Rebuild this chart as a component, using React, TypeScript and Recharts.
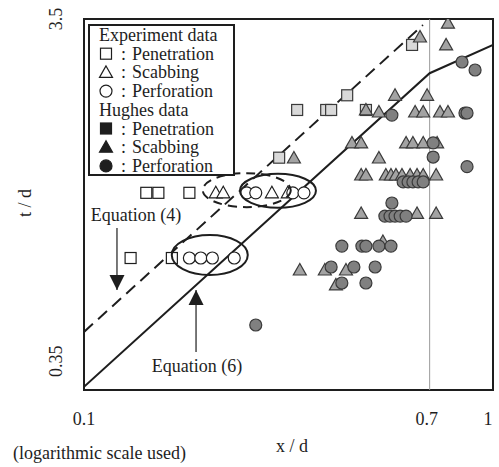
import React from "react";
import {
  ScatterChart,
  Scatter,
  XAxis,
  YAxis,
  ReferenceLine,
  ReferenceArea,
  ReferenceDot,
} from "recharts";

const X_TICKS = [0.1, 0.7, 1];
const Y_TICKS = [0.35, 3.5];

// experiment data (open markers)
const EXP_PENETRATION = [
  { x: 0.142, y: 1.19 },
  { x: 0.152, y: 1.19 },
  { x: 0.181, y: 1.19 },
  { x: 0.13, y: 0.794 },
  { x: 0.164, y: 0.794 },
];
const EXP_SCABBING = [
  { x: 0.21, y: 1.19 },
  { x: 0.219, y: 1.19 },
  { x: 0.288, y: 1.19 },
  { x: 0.315, y: 1.19 },
];
const EXP_PERFORATION = [
  { x: 0.25, y: 1.19 },
  { x: 0.263, y: 1.19 },
  { x: 0.324, y: 1.19 },
  { x: 0.345, y: 1.19 },
  { x: 0.181, y: 0.794 },
  { x: 0.193, y: 0.794 },
  { x: 0.206, y: 0.794 },
  { x: 0.233, y: 0.794 },
];

// Hughes data (filled markers)
const HUGHES_PENETRATION = [
  { x: 0.3, y: 1.48 },
  { x: 0.332, y: 1.99 },
  { x: 0.391, y: 1.99 },
  { x: 0.402, y: 1.99 },
  { x: 0.44, y: 2.18 },
  { x: 0.489, y: 1.99 },
  { x: 0.634, y: 2.98 },
];
const HUGHES_SCABBING = [
  { x: 0.776, y: 3.41 },
  { x: 0.663, y: 3.13 },
  { x: 0.768, y: 2.98 },
  { x: 0.576, y: 2.18 },
  { x: 0.69, y: 2.18 },
  { x: 0.489, y: 1.99 },
  { x: 0.526, y: 1.965 },
  { x: 0.645, y: 1.965 },
  { x: 0.675, y: 1.965 },
  { x: 0.742, y: 1.965 },
  { x: 0.776, y: 1.965 },
  { x: 0.452, y: 1.622 },
  { x: 0.476, y: 1.622 },
  { x: 0.613, y: 1.622 },
  { x: 0.637, y: 1.622 },
  { x: 0.675, y: 1.622 },
  { x: 0.73, y: 1.622 },
  { x: 0.326, y: 1.477 },
  { x: 0.526, y: 1.477 },
  { x: 0.476, y: 1.329 },
  { x: 0.489, y: 1.329 },
  { x: 0.547, y: 1.329 },
  { x: 0.563, y: 1.329 },
  { x: 0.579, y: 1.329 },
  { x: 0.599, y: 1.329 },
  { x: 0.627, y: 1.329 },
  { x: 0.652, y: 1.329 },
  { x: 0.675, y: 1.329 },
  { x: 0.726, y: 1.329 },
  { x: 0.476, y: 1.047 },
  { x: 0.652, y: 1.047 },
  { x: 0.726, y: 1.047 },
  { x: 0.538, y: 0.88 },
  { x: 0.337, y: 0.737 },
  { x: 0.388, y: 0.737 },
  { x: 0.437, y: 0.737 },
  { x: 0.413, y: 0.672 },
];
const HUGHES_PERFORATION = [
  { x: 0.84, y: 2.68 },
  { x: 0.904, y: 2.55 },
  { x: 0.566, y: 1.928 },
  { x: 0.854, y: 1.953 },
  { x: 0.864, y: 1.953 },
  { x: 0.714, y: 1.622 },
  { x: 0.714, y: 1.486 },
  { x: 0.864, y: 1.4 },
  { x: 0.603, y: 1.273 },
  { x: 0.62, y: 1.273 },
  { x: 0.637, y: 1.273 },
  { x: 0.656, y: 1.273 },
  { x: 0.675, y: 1.273 },
  { x: 0.566, y: 1.117 },
  { x: 0.544, y: 1.03 },
  { x: 0.56, y: 1.03 },
  { x: 0.576, y: 1.03 },
  { x: 0.593, y: 1.03 },
  { x: 0.613, y: 1.03 },
  { x: 0.427, y: 0.855 },
  { x: 0.478, y: 0.855 },
  { x: 0.489, y: 0.855 },
  { x: 0.526, y: 0.855 },
  { x: 0.563, y: 0.855 },
  { x: 0.402, y: 0.751 },
  { x: 0.457, y: 0.751 },
  { x: 0.515, y: 0.751 },
  { x: 0.427, y: 0.68 },
  { x: 0.489, y: 0.68 },
  { x: 0.263, y: 0.524 },
];

// Equation (4) dashed, Equation (6) solid
const EQ4_LINE = [
  { x: 0.1, y: 0.502 },
  { x: 0.674, y: 3.37 },
];
const EQ6_LINE = [
  { x: 0.1, y: 0.357 },
  { x: 0.7, y: 2.5 },
  { x: 1, y: 2.98 },
];

// annotations
const DASHED_ELLIPSE = { x: 0.25, y: 1.21 };
const SOLID_ELLIPSES = [
  { x: 0.298, y: 1.205 },
  { x: 0.203, y: 0.809 },
];
const EQ4_ARROW = [
  { x: 0.1204, y: 0.957 },
  { x: 0.1204, y: 0.651 },
];
const EQ6_ARROW = [
  { x: 0.1879, y: 0.443 },
  { x: 0.1879, y: 0.651 },
];
const EQ4_LABEL = { x: 0.134, y: 1.0, text: "Equation (4)" };
const EQ6_LABEL = { x: 0.189, y: 0.391, text: "Equation (6)" };

const LEGEND_ROWS = [
  { kind: "title", label: "Experiment data" },
  { kind: "square", open: true, label: "Penetration" },
  { kind: "triangle", open: true, label: "Scabbing" },
  { kind: "circle", open: true, label: "Perforation" },
  { kind: "title", label: "Hughes data" },
  { kind: "square", open: false, label: "Penetration" },
  { kind: "triangle", open: false, label: "Scabbing" },
  { kind: "circle", open: false, label: "Perforation" },
];

const FONT = "'Liberation Serif', 'Times New Roman', serif";
const INK = "#1e1e1e";

const triPoints = (cx: number, cy: number) =>
  `${cx},${cy - 6.5} ${cx - 6.5},${cy + 5} ${cx + 6.5},${cy + 5}`;

const squareShape = (fill: string, stroke: string) => (p: any) => (
  <rect x={p.cx - 5.5} y={p.cy - 5.5} width={11} height={11} fill={fill} stroke={stroke} strokeWidth={1.2} />
);
const triangleShape = (fill: string, stroke: string) => (p: any) => (
  <polygon points={triPoints(p.cx, p.cy)} fill={fill} stroke={stroke} strokeWidth={1.2} />
);
const circleShape = (fill: string, stroke: string) => (p: any) => (
  <circle cx={p.cx} cy={p.cy} r={6} fill={fill} stroke={stroke} strokeWidth={1.2} />
);

const XTick = (p: any) => {
  const v = p.payload.value;
  const dx = v === 1 ? -5 : v === 0.7 ? -3 : 0;
  return (
    <text x={p.x + dx} y={p.y + 35} textAnchor="middle" fontFamily={FONT} fontSize={18} fill={INK}>
      {v}
    </text>
  );
};

const YTick = (p: any) => {
  const v = p.payload.value;
  const top = v === 3.5;
  return (
    <text
      transform={`translate(${p.x - 22}, ${top ? p.y : p.y - 13}) rotate(-90)`}
      textAnchor={top ? "middle" : "start"}
      fontFamily={FONT}
      fontSize={18}
      fill={INK}
    >
      {v}
    </text>
  );
};

const LegendSymbol = ({ kind, open, cx, cy }: any) => {
  if (kind === "square")
    return <rect x={cx - 5.5} y={cy - 5.5} width={11} height={11} fill={open ? "#fff" : INK} stroke={INK} strokeWidth={1.2} />;
  if (kind === "triangle")
    return <polygon points={triPoints(cx, cy)} fill={open ? "#fff" : INK} stroke={INK} strokeWidth={1.2} />;
  return <circle cx={cx} cy={cy} r={6} fill={open ? "#fff" : INK} stroke={INK} strokeWidth={1.2} />;
};

const Overlay = () => (
  <svg width={499} height={467} style={{ position: "absolute", left: 0, top: 0, pointerEvents: "none" }}>
    <g fontFamily={FONT} fontSize={18} fill={INK}>
      <rect x={89} y={25} width={145} height={150} fill="#fff" stroke={INK} strokeWidth={2} />
      {LEGEND_ROWS.map((r, i) => {
        const base = 41 + i * 18.7;
        if (r.kind === "title")
          return (
            <text key={i} x={99} y={base}>
              {r.label}
            </text>
          );
        return (
          <g key={i}>
            <LegendSymbol kind={r.kind} open={r.open} cx={106} cy={base - 6} />
            <text x={121} y={base}>:</text>
            <text x={132} y={base}>
              {r.label}
            </text>
          </g>
        );
      })}
      <text transform="translate(31, 203) rotate(-90)" textAnchor="middle">
        t / d
      </text>
      <text x={292} y={452} textAnchor="middle">
        x / d
      </text>
      <text x={13} y={459}>
        (logarithmic scale used)
      </text>
    </g>
  </svg>
);

const App: React.FC = () => {
  const ellipse = (dashed: boolean, rx: number, ry: number) => (p: any) => (
    <ellipse
      cx={p.cx}
      cy={p.cy}
      rx={rx}
      ry={ry}
      fill="none"
      stroke={INK}
      strokeWidth={2}
      strokeDasharray={dashed ? "9 6" : undefined}
    />
  );
  const arrowHead = (down: boolean) => (p: any) => {
    const b = down ? p.cy - 15 : p.cy + 15;
    return <polygon points={`${p.cx},${p.cy} ${p.cx - 7.5},${b} ${p.cx + 7.5},${b}`} fill={INK} />;
  };
  const label = (text: string) => (p: any) => (
    <text x={p.cx} y={p.cy} textAnchor="middle" fontFamily={FONT} fontSize={18} fill={INK}>
      {text}
    </text>
  );

  return (
    <div style={{ position: "absolute", left: 0, top: 0, width: 499, height: 467, background: "#fff" }}>
      <ScatterChart width={499} height={467} margin={{ top: 19, right: 6, bottom: 37, left: 24 }}>
        <XAxis
          dataKey="x"
          type="number"
          scale="log"
          domain={[0.1, 1]}
          ticks={X_TICKS}
          interval={0}
          allowDataOverflow
          axisLine={false}
          tickLine={false}
          tickSize={0}
          tickMargin={0}
          height={40}
          tick={<XTick />}
        />
        <YAxis
          dataKey="y"
          type="number"
          scale="log"
          domain={[0.35, 3.5]}
          ticks={Y_TICKS}
          interval={0}
          allowDataOverflow
          axisLine={false}
          tickLine={false}
          tickSize={0}
          tickMargin={0}
          width={60}
          tick={<YTick />}
        />
        <ReferenceArea x1={0.1} x2={1} y1={0.35} y2={3.5} fill="none" stroke={INK} strokeWidth={2} ifOverflow="visible" />
        <ReferenceLine x={0.7} stroke="#9a9a9a" strokeWidth={1} />

        <Scatter
          data={EQ4_LINE}
          line={{ stroke: INK, strokeWidth: 2, strokeDasharray: "12 7" }}
          shape={() => <g />}
          isAnimationActive={false}
        />
        <Scatter data={EQ6_LINE} line={{ stroke: INK, strokeWidth: 2 }} shape={() => <g />} isAnimationActive={false} />

        <Scatter data={HUGHES_PENETRATION} shape={squareShape("#d9d9d9", "#3a3a3a")} isAnimationActive={false} />
        <Scatter data={HUGHES_SCABBING} shape={triangleShape("#a3a3a3", "#3a3a3a")} isAnimationActive={false} />
        <Scatter data={HUGHES_PERFORATION} shape={circleShape("#808080", "#3a3a3a")} isAnimationActive={false} />

        <Scatter data={EXP_PENETRATION} shape={squareShape("#fff", INK)} isAnimationActive={false} />
        <Scatter data={EXP_SCABBING} shape={triangleShape("#fff", INK)} isAnimationActive={false} />
        <Scatter data={EXP_PERFORATION} shape={circleShape("#fff", INK)} isAnimationActive={false} />

        <ReferenceDot x={DASHED_ELLIPSE.x} y={DASHED_ELLIPSE.y} r={1} shape={ellipse(true, 44, 17)} />
        <ReferenceDot x={SOLID_ELLIPSES[0].x} y={SOLID_ELLIPSES[0].y} r={1} shape={ellipse(false, 38, 17)} />
        <ReferenceDot x={SOLID_ELLIPSES[1].x} y={SOLID_ELLIPSES[1].y} r={1} shape={ellipse(false, 38, 20)} />

        <ReferenceLine segment={EQ4_ARROW} stroke={INK} strokeWidth={1.2} />
        <ReferenceDot x={EQ4_ARROW[1].x} y={EQ4_ARROW[1].y} r={1} shape={arrowHead(true)} />
        <ReferenceLine segment={EQ6_ARROW} stroke={INK} strokeWidth={1.2} />
        <ReferenceDot x={EQ6_ARROW[1].x} y={EQ6_ARROW[1].y} r={1} shape={arrowHead(false)} />

        <ReferenceDot x={EQ4_LABEL.x} y={EQ4_LABEL.y} r={1} shape={label(EQ4_LABEL.text)} />
        <ReferenceDot x={EQ6_LABEL.x} y={EQ6_LABEL.y} r={1} shape={label(EQ6_LABEL.text)} />
      </ScatterChart>
      <Overlay />
    </div>
  );
};

export default App;
